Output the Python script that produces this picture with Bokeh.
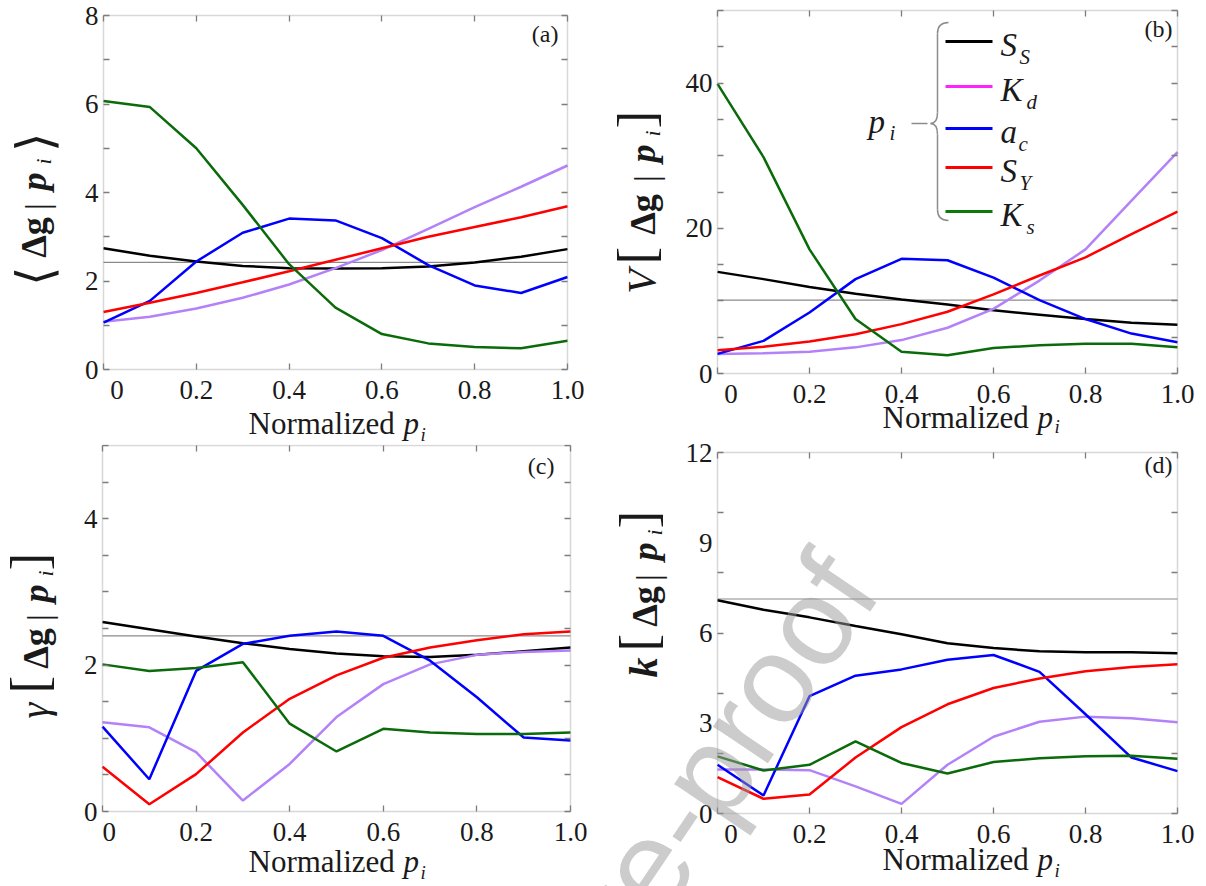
from bokeh.embed import file_html
from bokeh.layouts import column, row
from bokeh.models import BoxAnnotation, FixedTicker, Label, LinearAxis, Range1d
from bokeh.plotting import figure
from bokeh.resources import INLINE

# normalized value of the conditioning parameter p_i
x_norm = [0.0, 0.1, 0.2, 0.3, 0.4, 0.5, 0.6, 0.7, 0.8, 0.9, 1.0]

# (a) conditional mean <dg | p_i>
mean_Ss = [2.74, 2.57, 2.44, 2.34, 2.29, 2.28, 2.29, 2.33, 2.42, 2.55, 2.72]
mean_Kd = [1.08, 1.19, 1.38, 1.62, 1.92, 2.29, 2.70, 3.18, 3.67, 4.13, 4.61]
mean_ac = [1.06, 1.55, 2.44, 3.09, 3.41, 3.37, 2.97, 2.36, 1.90, 1.73, 2.09]
mean_SY = [1.30, 1.51, 1.73, 1.97, 2.22, 2.48, 2.74, 3.00, 3.22, 3.44, 3.69]
mean_Ks = [6.07, 5.93, 5.00, 3.72, 2.38, 1.40, 0.80, 0.59, 0.51, 0.48, 0.65]
mean_ref = 2.42

# (b) conditional variance V[dg | p_i]
var_Ss = [14.0, 13.0, 11.9, 11.0, 10.2, 9.5, 8.7, 8.1, 7.5, 7.0, 6.7]
var_Kd = [2.7, 2.8, 3.0, 3.6, 4.6, 6.3, 8.9, 12.8, 17.1, 23.8, 30.5]
var_ac = [2.7, 4.5, 8.4, 13.0, 15.8, 15.6, 13.2, 10.1, 7.5, 5.5, 4.3]
var_SY = [3.2, 3.7, 4.4, 5.4, 6.8, 8.5, 10.9, 13.5, 16.0, 19.2, 22.3]
var_Ks = [39.9, 29.8, 17.1, 7.5, 3.0, 2.5, 3.5, 3.9, 4.1, 4.1, 3.6]
var_ref = 10.1

# (c) conditional skewness
skew_Ss = [2.59, 2.49, 2.39, 2.30, 2.22, 2.16, 2.12, 2.11, 2.14, 2.19, 2.24]
skew_Kd = [1.22, 1.15, 0.81, 0.15, 0.65, 1.29, 1.74, 2.01, 2.14, 2.18, 2.20]
skew_ac = [1.16, 0.44, 1.92, 2.29, 2.40, 2.46, 2.40, 2.06, 1.56, 1.01, 0.97]
skew_SY = [0.61, 0.10, 0.51, 1.08, 1.54, 1.86, 2.10, 2.24, 2.34, 2.42, 2.46]
skew_Ks = [2.01, 1.92, 1.96, 2.04, 1.20, 0.82, 1.13, 1.08, 1.06, 1.06, 1.08]
skew_ref = 2.40

# (d) conditional kurtosis
kurt_Ss = [7.09, 6.77, 6.52, 6.23, 5.96, 5.66, 5.50, 5.39, 5.36, 5.36, 5.33]
kurt_Kd = [1.46, 1.46, 1.44, 0.90, 0.32, 1.62, 2.55, 3.05, 3.22, 3.17, 3.03]
kurt_ac = [1.62, 0.60, 3.90, 4.58, 4.79, 5.11, 5.27, 4.71, 3.30, 1.86, 1.41]
kurt_SY = [1.21, 0.49, 0.63, 1.86, 2.87, 3.63, 4.17, 4.49, 4.73, 4.87, 4.96]
kurt_Ks = [1.90, 1.43, 1.62, 2.40, 1.68, 1.33, 1.71, 1.84, 1.90, 1.92, 1.82]
kurt_ref = 7.13

x_ticks = [0.0, 0.2, 0.4, 0.6, 0.8, 1.0]
x_tick_labels = ["0", "0.2", "0.4", "0.6", "0.8", "1.0"]

# labelled y values and tick-mark positions for each panel
mean_ylabels, mean_ymarks = [0, 2, 4, 6, 8], [0, 1, 2, 3, 4, 5, 6, 7, 8]
var_ylabels, var_ymarks = [0, 20, 40], [0, 5, 10, 15, 20, 25, 30, 35, 40, 45, 50]
skew_ylabels, skew_ymarks = [0, 2, 4], [0, 0.5, 1, 1.5, 2, 2.5, 3, 3.5, 4, 4.5, 5]
kurt_ylabels, kurt_ymarks = [0, 3, 6, 9, 12], [0, 2, 4, 6, 8, 10, 12]

legend_main = ["S", "K", "a", "S", "K"]
legend_sub = ["S", "d", "c", "Y", "s"]
line_colors = ["#000000", "#b482f8", "#0000ff", "#ff0000", "#0b6b0b"]
legend_colors = ["#000000", "#ff22ff", "#0000ff", "#ff0000", "#0b7a0b"]

SERIF = "Liberation Serif"
INK = "#1a1a1a"
FRAME_GRAY = "#7d7d7d"
FIG_SPACE = "\u2007"


class Panel:
    """Canvas size, page origin and plot-box position (page pixels) of one panel."""

    def __init__(self, origin, size, box, ymax):
        self.ox, self.oy = origin
        self.w, self.h = size
        left, top, right, bottom = box
        self.left, self.top = left - self.ox, top - self.oy
        self.right, self.bottom = right - self.ox, bottom - self.oy
        self.ymax = ymax
        self.xppu = self.right - self.left
        self.yppu = (self.bottom - self.top) / ymax

    def x(self, px):
        return (px - self.ox - self.left) / self.xppu

    def y(self, py):
        return (self.bottom - (py - self.oy)) / self.yppu

    def x_range(self):
        return Range1d(-self.left / self.xppu, (self.w - self.left) / self.xppu)

    def y_range(self):
        return Range1d(-(self.h - self.bottom) / self.yppu, self.ymax + self.top / self.yppu)


PA = Panel((0, 0), (600, 444), (103, 15, 567, 369), 8)
PB = Panel((600, 0), (606, 437), (717, 10, 1177, 373), 50)
PC = Panel((0, 444), (600, 442), (102, 445, 570, 811), 5)
PD = Panel((600, 437), (606, 449), (717, 452, 1177, 813), 12)


def style_axis(ax):
    ax.axis_line_color = None
    ax.major_tick_line_color = None
    ax.major_tick_in = 0
    ax.major_tick_out = 0
    ax.minor_tick_line_color = FRAME_GRAY
    ax.minor_tick_line_width = 1.3
    ax.minor_tick_in = 6
    ax.minor_tick_out = 0
    ax.major_label_text_font = SERIF
    ax.major_label_text_font_size = "27px"
    ax.major_label_text_color = INK
    ax.major_label_standoff = 5


def make_panel(pn, label_ticks, mark_ticks, series, ref_level, zero_pad):
    p = figure(frame_width=pn.w, frame_height=pn.h,
               x_range=pn.x_range(), y_range=pn.y_range(), min_border=0,
               output_backend="svg", toolbar_location=None, tools="")
    p.grid.visible = False
    p.outline_line_color = None
    p.background_fill_color = "white"
    p.border_fill_color = "white"

    p.xaxis.fixed_location = 0
    p.xaxis.ticker = FixedTicker(ticks=x_ticks, minor_ticks=x_ticks)
    labels = dict(zip(x_ticks, x_tick_labels))
    # keep the x "0" clear of the y "0" at the corner
    labels[0.0] = FIG_SPACE * zero_pad + labels[0.0]
    p.xaxis.major_label_overrides = labels
    p.yaxis.fixed_location = 0
    p.yaxis.ticker = FixedTicker(ticks=label_ticks, minor_ticks=mark_ticks)
    # mirrored tick marks on the top and right sides of the box, without labels
    top = LinearAxis(fixed_location=pn.ymax, ticker=FixedTicker(ticks=[], minor_ticks=x_ticks))
    right = LinearAxis(fixed_location=1.0, ticker=FixedTicker(ticks=[], minor_ticks=mark_ticks))
    p.add_layout(top, "above")
    p.add_layout(right, "right")
    for ax in p.axis:
        style_axis(ax)

    p.line([x_norm[0], x_norm[-1]], [ref_level, ref_level],
           line_color="#8a8a8a", line_width=1.2)
    for vals, color in zip(series, line_colors):
        p.line(x_norm, vals, line_color=color, line_width=2.5)
    p.add_layout(BoxAnnotation(left=0, right=1, bottom=0, top=pn.ymax,
                               fill_color=None, line_color=FRAME_GRAY, line_width=1.5))
    return p


# Bokeh sets alphabetic labels about 0.3 em below the requested baseline
BASELINE_FIX = 0.3


def put(p, pn, px, py, text, size, style="normal", align="left",
        baseline="alphabetic", angle=0, font=SERIF, color=INK, alpha=1.0,
        level="annotation", fix=True):
    if baseline == "alphabetic" and fix:
        if angle == 90:
            px -= BASELINE_FIX * size
        else:
            py -= BASELINE_FIX * size
    p.add_layout(Label(x=px - pn.ox, y=py - pn.oy, x_units="canvas", y_units="canvas",
                       text=text, text_font=font,
                       text_font_size=f"{size}px", text_font_style=style,
                       text_align=align, text_baseline=baseline,
                       angle=angle, angle_units="deg",
                       text_color=color, text_alpha=alpha, level=level))


def y_title(p, pn, pieces):
    for text, size, style, yc, xb in pieces:
        put(p, pn, xb, yc, text, size, style, align="center", angle=90)


def x_title(p, pn, left, base, sub_drop=8):
    put(p, pn, left, base, "Normalized", 31)
    put(p, pn, left + 155, base, "p", 31, "italic")
    put(p, pn, left + 172, base + sub_drop, "i", 19, "italic")


pa = make_panel(PA, mean_ylabels, mean_ymarks,
                [mean_Ss, mean_Kd, mean_ac, mean_SY, mean_Ks], mean_ref, 2)
pb = make_panel(PB, var_ylabels, var_ymarks,
                [var_Ss, var_Kd, var_ac, var_SY, var_Ks], var_ref, 2)
pc = make_panel(PC, skew_ylabels, skew_ymarks,
                [skew_Ss, skew_Kd, skew_ac, skew_SY, skew_Ks], skew_ref, 1)
pd = make_panel(PD, kurt_ylabels, kurt_ymarks,
                [kurt_Ss, kurt_Kd, kurt_ac, kurt_SY, kurt_Ks], kurt_ref, 2)

# axis titles built from styled pieces (rotated, reading upwards)
y_title(pa, PA, [("⟨", 50, "normal", 275, 49), ("Δg", 36, "bold", 237, 44),
                 ("|", 34, "normal", 206, 47), ("p", 36, "bold italic", 181, 44),
                 ("i", 22, "italic", 161, 50), ("⟩", 50, "normal", 141, 49)])
y_title(pb, PB, [("V", 40, "italic", 281, 653), ("[", 52, "normal", 255, 652),
                 ("Δg", 36, "bold", 214, 653), ("|", 34, "normal", 178, 656),
                 ("p", 36, "bold italic", 153, 653), ("i", 22, "italic", 133, 659),
                 ("]", 52, "normal", 119, 652)])
y_title(pc, PC, [("γ", 40, "italic", 710, 46), ("[", 52, "normal", 684, 45),
                 ("Δg", 36, "bold", 648, 46), ("|", 34, "normal", 617, 49),
                 ("p", 36, "bold italic", 593, 46), ("i", 22, "italic", 573, 52),
                 ("]", 52, "normal", 561, 45)])
y_title(pd, PD, [("k", 40, "bold italic", 667, 655), ("[", 52, "normal", 642, 654),
                 ("Δg", 36, "bold", 606, 655), ("|", 34, "normal", 577, 658),
                 ("p", 36, "bold italic", 551, 655), ("i", 22, "italic", 532, 661),
                 ("]", 52, "normal", 519, 654)])

x_title(pa, PA, 248, 432)
x_title(pb, PB, 882, 426, sub_drop=6)
x_title(pc, PC, 248, 870)
x_title(pd, PD, 882, 868)

# panel tags
put(pa, PA, 558, 33, "(a)", 24, align="right", baseline="middle")
put(pb, PB, 1172, 28, "(b)", 24, align="right", baseline="middle")
put(pc, PC, 554, 465, "(c)", 24, align="right", baseline="middle")
put(pd, PD, 1172, 464, "(d)", 24, align="right", baseline="middle")

# legend of the conditioning parameters, grouped by a brace
legend_rows = [41, 86, 128, 167, 211]
sub_offsets = [19, 26, 18, 19, 26]
pb.segment(x0=[PB.x(945)] * 5, x1=[PB.x(992)] * 5,
           y0=[PB.y(r) for r in legend_rows], y1=[PB.y(r) for r in legend_rows],
           line_color=legend_colors, line_width=3)
for r, main, sub, off in zip(legend_rows, legend_main, legend_sub, sub_offsets):
    put(pb, PB, 1000, r + 13, main, 33, "italic")
    put(pb, PB, 1000 + off, r + 22, sub, 21, "italic")

BRACE = "#8c8c8c"
pb.quadratic(x0=[PB.x(948), PB.x(937), PB.x(930), PB.x(937)],
             y0=[PB.y(22), PB.y(112), PB.y(123), PB.y(209)],
             x1=[PB.x(937), PB.x(930), PB.x(937), PB.x(948)],
             y1=[PB.y(33), PB.y(123), PB.y(134), PB.y(220)],
             cx=[PB.x(937), PB.x(937), PB.x(937), PB.x(937)],
             cy=[PB.y(22), PB.y(123), PB.y(123), PB.y(220)],
             line_color=BRACE, line_width=1.5)
pb.segment(x0=[PB.x(937), PB.x(937), PB.x(911)], x1=[PB.x(937), PB.x(937), PB.x(927)],
           y0=[PB.y(33), PB.y(134), PB.y(123)], y1=[PB.y(112), PB.y(209), PB.y(123)],
           line_color=BRACE, line_width=1.5)
put(pb, PB, 868, 131, "p", 33, "italic")
put(pb, PB, 889, 139, "i", 21, "italic")

# faint proof watermark across the lower panels
for p, pn in ((pc, PC), (pd, PD)):
    put(p, pn, 847, 567, "Journal Pre-proof", 125, align="right",
        angle=56, font="Liberation Sans", color="#9a9a9a", alpha=0.5,
        level="overlay", fix=False)

layout = row(column(pa, pc), column(pb, pd))
open("out.html", "w").write(file_html(layout, INLINE))
